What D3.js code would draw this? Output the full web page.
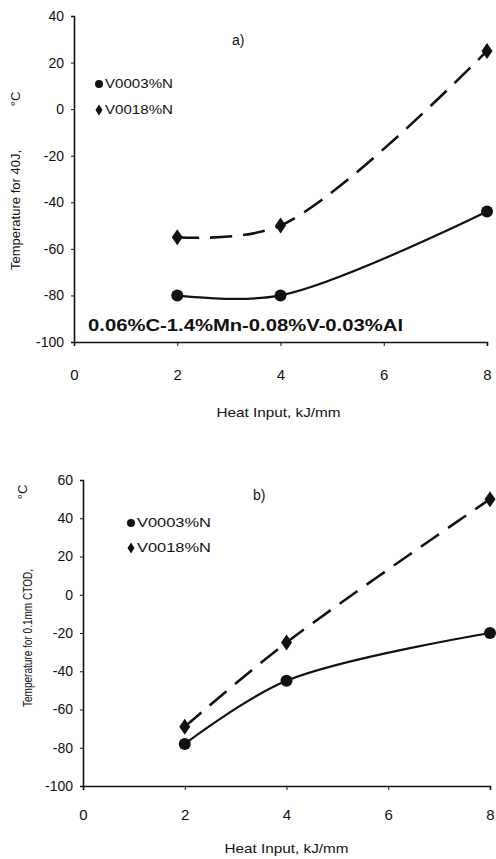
<!DOCTYPE html>
<html>
<head>
<meta charset="utf-8">
<script src="https://cdn.jsdelivr.net/npm/d3@7"></script>
<style>
  body { margin: 0; background: #fff; }
  svg text { font-family: "Liberation Sans Narrow", "Liberation Sans", Arial, sans-serif; fill: #111; }
</style>
</head>
<body>
<div id="chart"></div>
<script>
// data
const heatInput = [2, 4, 8];
const xTicks = [0, 2, 4, 6, 8];

const seriesNames = ["V0003%N", "V0018%N"];

// panel a) - temperature for 40J
const a_low = [-80, -80, -44];
const a_high = [-55, -50, 25];
const a_yTicks = [40, 20, 0, -20, -40, -60, -80, -100];

// panel b) - temperature for 0.1mm CTOD
const b_low = [-78, -45, -20];
const b_high = [-69, -25, 50];
const b_yTicks = [60, 40, 20, 0, -20, -40, -60, -80, -100];

const svg = d3.select("#chart").append("svg")
    .attr("width", 496)
    .attr("height", 859);

// plain hyphen for negatives, like the original
const fmt = d => String(d);

function drawPanel(p) {
    const x = d3.scaleLinear().domain([0, 8]).range(p.xRange);
    const y = d3.scaleLinear().domain(p.yDomain).range(p.yRange);
    const g = svg.append("g");

    // axes
    const yAxis = g.append("g")
        .attr("transform", `translate(${p.xRange[0]},0)`)
        .call(d3.axisLeft(y).tickValues(p.yTicks).tickSize(3).tickFormat(fmt));
    const xAxis = g.append("g")
        .attr("transform", `translate(0,${p.yRange[0]})`)
        .call(d3.axisBottom(x).tickValues(xTicks).tickSize(4).tickFormat(fmt));

    [yAxis, xAxis].forEach(ax => {
        ax.select(".domain").attr("stroke", "#111").attr("stroke-width", 1.6);
        ax.selectAll(".tick line").attr("stroke", "#111");
    });
    yAxis.selectAll(".tick text")
        .attr("x", -10)
        .style("font-size", "14px");
    xAxis.selectAll(".tick text")
        .attr("y", p.xLabelOffset)
        .attr("dy", "0.35em")
        .style("font-size", "15px");

    // lines, Excel-ish smoothed
    const line = d3.line()
        .x((d, i) => x(heatInput[i]))
        .y(d => y(d))
        .curve(d3.curveCatmullRom.alpha(0.5));

    g.append("path")
        .datum(p.low)
        .attr("fill", "none")
        .attr("stroke", "#111")
        .attr("stroke-width", 2.2)
        .attr("d", line);

    g.append("path")
        .datum(p.high)
        .attr("fill", "none")
        .attr("stroke", "#111")
        .attr("stroke-width", 2.6)
        .attr("stroke-dasharray", "22,11")
        .attr("d", line);

    // markers
    g.selectAll(".dot-low")
        .data(p.low)
        .enter().append("circle")
        .attr("cx", (d, i) => x(heatInput[i]))
        .attr("cy", d => y(d))
        .attr("r", 6)
        .attr("fill", "#111");

    g.selectAll(".dot-high")
        .data(p.high)
        .enter().append("path")
        .attr("d", "M0,-8L5.5,0L0,8L-5.5,0Z")
        .attr("transform", (d, i) => `translate(${x(heatInput[i])},${y(d)})`)
        .attr("fill", "#111");

    // legend
    const lg = g.append("g").attr("transform", `translate(${p.legend[0]},${p.legend[1]})`);
    seriesNames.forEach((name, i) => {
        const row = lg.append("g").attr("transform", `translate(0,${i * p.legendStep})`);
        if (i === 0) {
            row.append("circle").attr("r", 4).attr("fill", "#111");
        } else {
            row.append("path").attr("d", "M0,-5.5L3.5,0L0,5.5L-3.5,0Z").attr("fill", "#111");
        }
        row.append("text")
            .attr("x", 6)
            .attr("dy", "0.35em")
            .style("font-size", "12px")
            .attr("textLength", p.legendWidth)
            .attr("lengthAdjust", "spacingAndGlyphs")
            .text(name);
    });

    // panel letter
    g.append("text")
        .attr("x", p.letter[0])
        .attr("y", p.letter[1])
        .attr("dy", "0.35em")
        .style("font-size", "14px")
        .text(p.letterText);

    // axis titles
    g.append("text")
        .attr("x", (p.xRange[0] + p.xRange[1]) / 2 + p.xTitleShift)
        .attr("y", p.xTitleY)
        .attr("text-anchor", "middle")
        .attr("dy", "0.35em")
        .style("font-size", "13px")
        .attr("textLength", 124)
        .attr("lengthAdjust", "spacingAndGlyphs")
        .text("Heat Input, kJ/mm");

    g.append("text")
        .attr("transform", `translate(${p.yTitle[0]},${p.yTitle[1]}) rotate(-90)`)
        .attr("text-anchor", "middle")
        .attr("dy", "0.35em")
        .style("font-size", "12px")
        .attr("textLength", p.yTitleLen)
        .attr("lengthAdjust", "spacingAndGlyphs")
        .text(p.yTitleText);

    g.append("text")
        .attr("transform", `translate(${p.degC[0]},${p.degC[1]}) rotate(-90)`)
        .attr("text-anchor", "middle")
        .attr("dy", "0.35em")
        .style("font-size", "13px")
        .text("°C");

    return g;
}

const ga = drawPanel({
    xRange: [74, 487], yDomain: [-100, 40], yRange: [342, 16],
    yTicks: a_yTicks, low: a_low, high: a_high, xLabelOffset: 33,
    legend: [99, 84], legendStep: 26, legendWidth: 68,
    letter: [232, 40], letterText: "a)",
    xTitleShift: -2, xTitleY: 412,
    yTitle: [16, 210], yTitleLen: 120, yTitleText: "Temperature for 40J,",
    degC: [15, 99]
});

// steel composition note in panel a
ga.append("text")
    .attr("x", 88)
    .attr("y", 325)
    .attr("dy", "0.35em")
    .style("font-family", "'Liberation Sans', Arial, sans-serif")
    .style("font-weight", "bold")
    .style("font-size", "16px")
    .attr("textLength", 315)
    .attr("lengthAdjust", "spacingAndGlyphs")
    .text("0.06%C-1.4%Mn-0.08%V-0.03%Al");

drawPanel({
    xRange: [83, 490], yDomain: [-100, 60], yRange: [786, 480],
    yTicks: b_yTicks, low: b_low, high: b_high, xLabelOffset: 29,
    legend: [131, 523], legendStep: 25, legendWidth: 74,
    letter: [253, 495], letterText: "b)",
    xTitleShift: 0, xTitleY: 848,
    yTitle: [28, 638], yTitleLen: 138, yTitleText: "Temperature for 0.1mm CTOD,",
    degC: [22, 492]
});
</script>
</body>
</html>
